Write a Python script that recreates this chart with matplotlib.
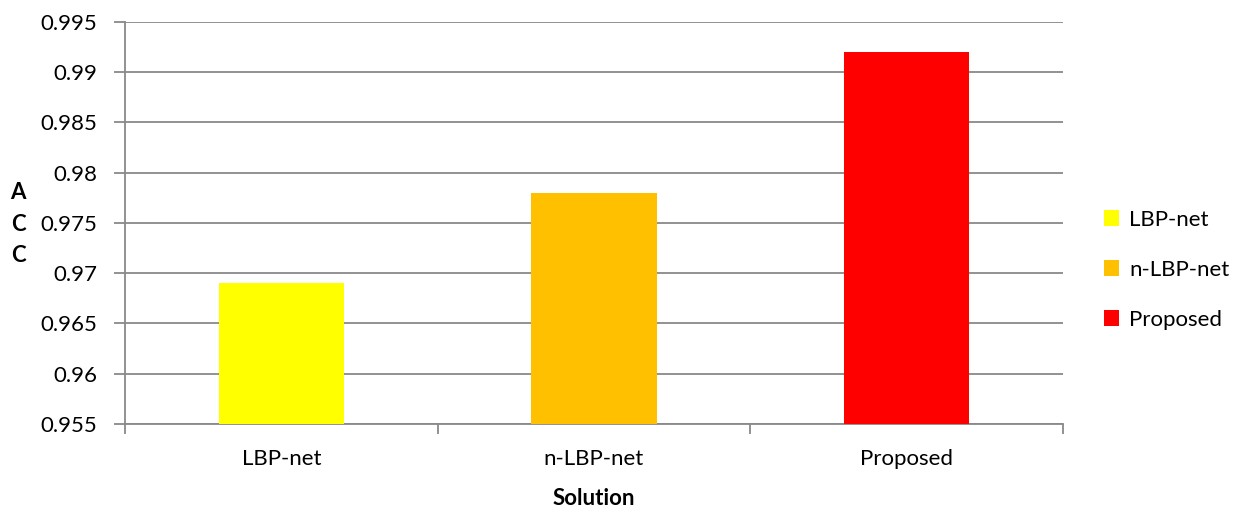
import matplotlib
matplotlib.use('Agg')
import matplotlib.pyplot as plt
from matplotlib.patches import Patch
import numpy as np

plt.rcParams['font.family'] = ['Lato', 'DejaVu Sans']

solutions = ['LBP-net', 'n-LBP-net', 'Proposed']
acc = [0.969, 0.978, 0.992]
colors = ['#FFFF00', '#FFC000', '#FF0000']
yticks = [0.955, 0.96, 0.965, 0.97, 0.975, 0.98, 0.985, 0.99, 0.995]
ytick_labels = ['0.955', '0.96', '0.965', '0.97', '0.975', '0.98', '0.985', '0.99', '0.995']

grid_c = '#898989'
fs = 16

fig = plt.figure(figsize=(12.38, 5.08), dpi=100)
ax = fig.add_axes([0.101, 0.1654, 0.7576, 0.7913])

x = np.arange(len(solutions))
ax.bar(x, acc, width=0.4, color=colors, zorder=3)

ax.set_ylim(0.955, 0.995)
ax.set_xlim(-0.5, len(solutions) - 0.5)
ax.set_yticks(yticks)
ax.set_yticklabels(ytick_labels)
ax.set_xticks(x)
ax.set_xticklabels(solutions)
# category separators on the x axis
ax.set_xticks(np.arange(-0.5, len(solutions)), minor=True)
ax.tick_params(axis='x', which='major', length=0, pad=18, labelsize=fs)
ax.tick_params(axis='x', which='minor', length=7, width=1.3, color=grid_c, direction='out')
ax.tick_params(axis='y', length=8, width=1.3, color=grid_c, labelsize=fs, pad=12)

ax.yaxis.grid(True, color=grid_c, linewidth=1.3, zorder=0)
for s in ['top', 'right']:
    ax.spines[s].set_visible(False)
for s in ['left', 'bottom']:
    ax.spines[s].set_color(grid_c)
    ax.spines[s].set_linewidth(1.3)

ax.set_xlabel('Solution', fontsize=fs, fontweight='bold', labelpad=14)
fig.text(0.0145, 0.559, 'A\nC\nC', fontsize=fs, fontweight='bold',
         ha='center', va='center', linespacing=1.6)

handles = [Patch(facecolor=c, edgecolor='none') for c in colors]
fig.legend(handles, solutions, loc='center left', bbox_to_anchor=(0.8915, 0.4685),
           frameon=False, fontsize=fs, handlelength=0.7, handleheight=0.7,
           handletextpad=0.45, labelspacing=1.35, borderpad=0, borderaxespad=0)

fig.savefig('out.png', dpi=100)
